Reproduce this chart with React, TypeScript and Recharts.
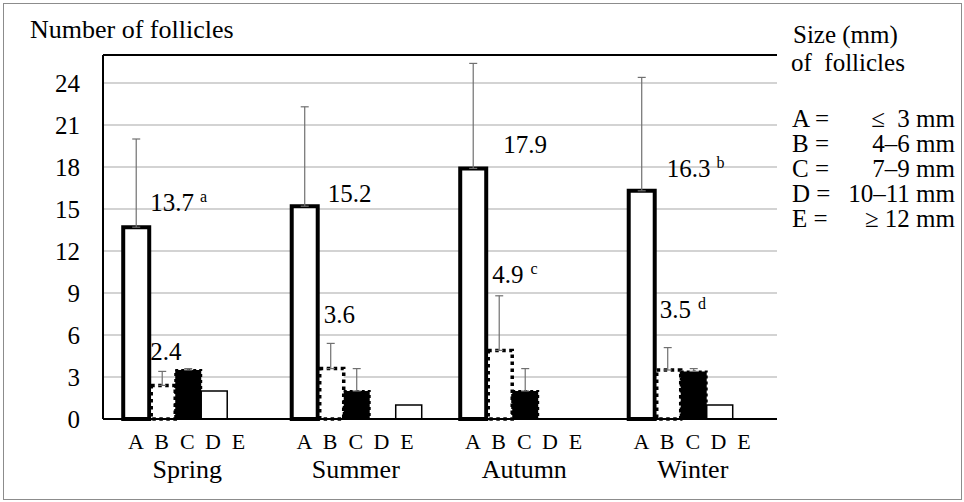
import React from "react";
import {
  BarChart, Bar, XAxis, YAxis, CartesianGrid, ErrorBar, LabelList, ReferenceLine,
} from "recharts";

const FONT = "'Liberation Serif', 'Times New Roman', serif";

const SEASONS = ["Spring", "Summer", "Autumn", "Winter"];
const SIZE_CLASSES = ["A", "B", "C", "D", "E"];

// mean number of follicles per size class
const VALUES_A = [13.7, 15.2, 17.9, 16.3];
const VALUES_B = [2.4, 3.6, 4.9, 3.5];
const VALUES_C = [3.5, 2.0, 2.0, 3.4];
const VALUES_D = [2.0, 0, 0, 1.0];
const VALUES_E = [0, 1.0, 0, 0];

// upper SD (only drawn upward)
const SD_A = [6.3, 7.1, 7.5, 8.1];
const SD_B = [1.0, 1.8, 3.9, 1.6];
const SD_C = [0.1, 1.6, 1.6, 0.2];

// significance letters
const SUP_A = ["a", "", "", "b"];
const SUP_B = ["", "", "c", "d"];
const SHOW_E = [false, true, false, false];

const Y_TICKS = [0, 3, 6, 9, 12, 15, 18, 21, 24];

const LEGEND_KEYS = ["A =", "B =", "C =", "D =", "E ="];
const LEGEND_SIZES = ["\u2264\u00a0 3 mm", "4\u20136 mm", "7\u20139 mm", "10\u201311 mm", "\u2265 12 mm"];

// label nudges (px) relative to the bar
const POS_A = [{ dx: 1, dy: -16 }, { dx: 10, dy: -4 }, { dx: 17, dy: -15 }, { dx: 12, dy: -14 }];
const POS_B = [{ dx: 1, dy: -25 }, { dx: 6, dy: -46 }, { dx: 6, dy: -67 }, { dx: 5, dy: -52 }];

const BAR_STEP = 25.6;

const data = SEASONS.map((season, i) => ({
  season,
  A: VALUES_A[i],
  B: VALUES_B[i],
  C: VALUES_C[i],
  D: VALUES_D[i],
  E: VALUES_E[i],
  errA: [0, SD_A[i]],
  errB: [0, SD_B[i]],
  errC: [0, SD_C[i]],
}));

const box = (p: any) => {
  const vb = p.viewBox || p;
  return { x: Number(vb.x), y: Number(vb.y), w: Number(vb.width) };
};

const labelA = (props: any) => {
  const { x, y, w } = box(props);
  const i = props.index;
  const pos = POS_A[i];
  return (
    <text x={x + w + pos.dx} y={y + pos.dy} fontSize={25} fontFamily={FONT} fill="#000">
      {props.value}
      {SUP_A[i] ? <tspan fontSize={16} dx={6} dy={-9}>{SUP_A[i]}</tspan> : null}
    </text>
  );
};

const labelB = (props: any) => {
  const { x, y } = box(props);
  const i = props.index;
  const pos = POS_B[i];
  return (
    <text x={x + pos.dx} y={y + pos.dy} fontSize={25} fontFamily={FONT} fill="#000">
      {props.value}
      {SUP_B[i] ? <tspan fontSize={16} dx={7} dy={-9}>{SUP_B[i]}</tspan> : null}
    </text>
  );
};

const labelE = (props: any) => {
  const i = props.index;
  if (!SHOW_E[i]) return null;
  const { x, y, w } = box(props);
  return (
    <text x={x + w / 2} y={y - 13} textAnchor="middle" fontSize={25} fontFamily={FONT} fill="#000">
      {props.value}
    </text>
  );
};

// B sits right of the heavy A outline, keep its fill off that outline
const DottedBar = (p: any) => {
  if (!p.height) return null;
  return (
    <rect x={p.x + 2} y={p.y} width={p.width - 2} height={p.height}
      fill="#fff" stroke="#000" strokeWidth={3.5} strokeDasharray="3.5 3.5" />
  );
};

const SeasonTick = (props: any) => {
  const { x, y, payload } = props;
  return (
    <g fontFamily={FONT} fill="#000">
      {SIZE_CLASSES.map((c, i) => (
        <text key={c} x={x + (i - 2) * BAR_STEP} y={y + 30} textAnchor="middle" fontSize={22}>{c}</text>
      ))}
      <text x={x} y={y + 59} textAnchor="middle" fontSize={26}>{payload.value}</text>
    </g>
  );
};

export default function App() {
  return (
    <div style={{ position: "absolute", left: 0, top: 0, width: 964, height: 502, background: "#fff" }}>
      <div style={{ position: "absolute", left: 3, top: 3, width: 957, height: 495, border: "1px solid #8c8c8c" }} />
      <div style={{ position: "absolute", left: 0, top: 0 }}>
        <BarChart width={964} height={502} data={data}
          margin={{ top: 55, right: 187, left: 43, bottom: 23 }}
          barCategoryGap="12%" barGap={0}>
          <CartesianGrid vertical={false} stroke="#c4c4c4" strokeWidth={1.5} />
          <XAxis dataKey="season" height={60} tick={<SeasonTick />} tickLine={false} tickSize={0} tickMargin={0}
            axisLine={{ stroke: "#000", strokeWidth: 2 }} interval={0} />
          <YAxis domain={[0, 26]} ticks={Y_TICKS} width={60} tickLine={false} tickSize={0} tickMargin={23}
            axisLine={{ stroke: "#000", strokeWidth: 2 }}
            tick={{ fill: "#000", fontSize: 25, fontFamily: FONT }} />
          <YAxis yAxisId="r" orientation="right" domain={[0, 26]} width={0} tick={false} tickLine={false}
            axisLine={{ stroke: "#000", strokeWidth: 2 }} />
          <ReferenceLine y={26} stroke="#000" strokeWidth={2} />
          <Bar dataKey="A" fill="#fff" stroke="#000" strokeWidth={4} isAnimationActive={false}>
            <ErrorBar dataKey="errA" width={4} stroke="#707070" strokeWidth={1.2} direction="y" />
            <LabelList dataKey="A" content={labelA} />
          </Bar>
          <Bar dataKey="B" shape={<DottedBar />} isAnimationActive={false}>
            <ErrorBar dataKey="errB" width={4} stroke="#707070" strokeWidth={1.2} direction="y" />
            <LabelList dataKey="B" content={labelB} />
          </Bar>
          <Bar dataKey="C" fill="#000" stroke="#000" strokeWidth={2} strokeDasharray="3 3" isAnimationActive={false}>
            <ErrorBar dataKey="errC" width={4} stroke="#707070" strokeWidth={1.2} direction="y" />
          </Bar>
          <Bar dataKey="D" fill="#fff" stroke="#000" strokeWidth={1.5} isAnimationActive={false} />
          <Bar dataKey="E" fill="#fff" stroke="#000" strokeWidth={1.5} isAnimationActive={false}>
            <LabelList dataKey="E" content={labelE} />
          </Bar>
        </BarChart>
      </div>
      <svg width={964} height={502} style={{ position: "absolute", left: 0, top: 0, pointerEvents: "none" }}
        fontFamily={FONT} fill="#000">
        <text x={30} y={38} fontSize={26}>Number of follicles</text>
        <text x={793} y={43} fontSize={25}>Size (mm)</text>
        <text x={791} y={71} fontSize={25}>of&nbsp; follicles</text>
        {LEGEND_KEYS.map((k, i) => (
          <g key={k}>
            <text x={792} y={127 + i * 25} fontSize={25}>{k}</text>
            <text x={955} y={127 + i * 25} fontSize={25} textAnchor="end">{LEGEND_SIZES[i]}</text>
          </g>
        ))}
      </svg>
    </div>
  );
}
